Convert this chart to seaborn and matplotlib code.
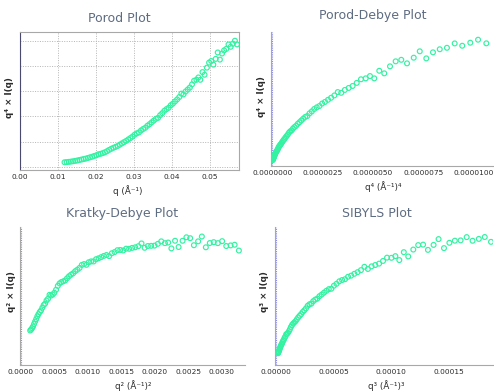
import numpy as np
import pandas as pd
import matplotlib
matplotlib.use("Agg")
import matplotlib.pyplot as plt
import seaborn as sns

# Scattering vector q (1/Å) of the measured curve
q = [0.01172, 0.01228, 0.01284, 0.01340, 0.01396, 0.01452, 0.01507, 0.01563, 0.01619, 0.01675,
     0.01731, 0.01787, 0.01843, 0.01899, 0.01955, 0.02011, 0.02066, 0.02122, 0.02178, 0.02234,
     0.02290, 0.02346, 0.02402, 0.02458, 0.02514, 0.02570, 0.02625, 0.02681, 0.02737, 0.02793,
     0.02849, 0.02905, 0.02961, 0.03017, 0.03073, 0.03129, 0.03184, 0.03240, 0.03296, 0.03352,
     0.03408, 0.03464, 0.03520, 0.03576, 0.03632, 0.03688, 0.03743, 0.03799, 0.03855, 0.03911,
     0.03967, 0.04023, 0.04079, 0.04135, 0.04191, 0.04247, 0.04302, 0.04358, 0.04414, 0.04470,
     0.04526, 0.04582, 0.04642, 0.04694, 0.04745, 0.04802, 0.04857, 0.04918, 0.04976, 0.05032,
     0.05087, 0.05149, 0.05203, 0.05260, 0.05316, 0.05371, 0.05428, 0.05487, 0.05543, 0.05601,
     0.05655, 0.05711]

# q^2 x I(q) in arbitrary units (Kratky quantity)
q2_intensity = [34.5, 35.5, 36.8, 38.5, 41.0, 43.5, 46.0, 48.8, 51.0, 53.2,
                54.8, 57.5, 60.2, 61.6, 64.8, 66.5, 70.5, 69.8, 70.8, 72.6,
                75.6, 79.5, 82.0, 83.4, 84.1, 85.0, 87.2, 89.3, 90.9, 92.2,
                94.4, 95.9, 97.7, 100.7, 101.6, 100.8, 103.4, 104.3, 104.2, 106.5,
                107.4, 108.6, 109.8, 110.7, 109.6, 112.5, 113.7, 115.6, 115.8, 115.3,
                117.1, 117.0, 117.9, 118.5, 119.6, 122.4, 118.0, 119.8, 120.0, 120.2,
                122.0, 124.5, 122.7, 123.3, 117.4, 125.1, 118.8, 125.1, 128.6, 127.7,
                120.6, 124.5, 129.4, 118.5, 122.8, 123.7, 122.7, 124.7, 119.8, 120.4,
                121.1, 115.2]

porod_ticks = [0.00, 0.01, 0.02, 0.03, 0.04, 0.05]
porod_debye_ticks = [0.0, 0.0000025, 0.0000050, 0.0000075, 0.0000100]
kratky_ticks = [0.0, 0.0005, 0.0010, 0.0015, 0.0020, 0.0025, 0.0030]
sibyls_ticks = [0.0, 0.00005, 0.00010, 0.00015]

sns.set_style("white")
plt.rcParams["font.family"] = ["DejaVu Sans"]

qa = np.array(q)
intensity = np.array(q2_intensity) / qa**2
df = pd.DataFrame({
    "q": qa,
    "q2": qa**2,
    "q3": qa**3,
    "q4": qa**4,
    "q2I": qa**2 * intensity,
    "q3I": qa**3 * intensity,
    "q4I": qa**4 * intensity,
})

W, H = 494, 392
fig = plt.figure(figsize=(W / 100, H / 100), dpi=100)
fig.patch.set_facecolor("white")


def rect(left, top, right, bottom):
    return [left / W, 1 - bottom / H, (right - left) / W, (bottom - top) / H]


def fpos(px, py):
    return px / W, 1 - py / H


MARK = "#33f2a2"
TITLE_C = "#5e6c82"
TEXT_C = "#2b2b2b"
SPINE_C = "#a8a8a8"

panels = [
    dict(title="Porod Plot", x="q", y="q4I", box=(19.5, 32, 239, 170),
         xlim=(-0.00013, 0.05763), ylim=(-0.0195, 0.4147),
         xticks=porod_ticks, fmt="{:.2f}", yfrac=(0.024, 0.182, 6), grid=True,
         title_xy=(119, 18.3), xlabel="q (Å⁻¹)", xlabel_xy=(128, 190.7),
         ylabel="q⁴ × I(q)", ylabel_xy=(10, 98)),
    dict(title="Porod-Debye Plot", x="q4", y="q4I", box=(270.5, 31.7, 493, 166),
         xlim=(-8.9e-8, 1.0969e-5), ylim=(-0.01434, 0.4127),
         xticks=porod_debye_ticks, fmt="{:.7f}", yfrac=(0.020, 0.1846, 6), grid=False,
         title_xy=(373, 15), xlabel="q⁴ (Å⁻¹)⁴", xlabel_xy=(383, 187),
         ylabel="q⁴ × I(q)", ylabel_xy=(261.7, 96.7)),
    dict(title="Kratky-Debye Plot", x="q2", y="q2I", box=(19.5, 226.7, 245, 365),
         xlim=(-2.25e-5, 3.353e-3), ylim=(-0.33, 139.3),
         xticks=kratky_ticks, fmt="{:.4f}", yfrac=(0.024, 0.1152, 9), grid=False,
         title_xy=(122.5, 213.3), xlabel="q² (Å⁻¹)²", xlabel_xy=(133, 385.7),
         ylabel="q² × I(q)", ylabel_xy=(11.7, 291.7)),
    dict(title="SIBYLS Plot", x="q3", y="q3I", box=(274.5, 226.7, 493, 365),
         xlim=(-1.3e-6, 1.880e-4), ylim=(-0.244, 7.419),
         xticks=sibyls_ticks, fmt="{:.5f}", yfrac=(0.029, 0.1018, 10), grid=False,
         title_xy=(376.7, 213.3), xlabel="q³ (Å⁻¹)³", xlabel_xy=(386.7, 385.7),
         ylabel="q³ × I(q)", ylabel_xy=(264, 292)),
]

for p in panels:
    ax = fig.add_axes(rect(*p["box"]))
    ax.set_facecolor("white")
    sns.scatterplot(data=df, x=p["x"], y=p["y"], ax=ax, marker="o", s=12,
                    facecolors="none", edgecolor=MARK, linewidth=0.85,
                    legend=False, zorder=3)
    ax.set_xlim(*p["xlim"])
    ax.set_ylim(*p["ylim"])
    lo, hi = p["ylim"]
    f0, step, n = p["yfrac"]
    ax.set_yticks([lo + (f0 + i * step) * (hi - lo) for i in range(n)])
    ax.set_xticks(p["xticks"])
    ax.set_xticklabels([p["fmt"].format(v) for v in p["xticks"]])
    ax.tick_params(axis="y", length=2.2, width=0.6, color="#9a9a9a",
                   labelleft=False, direction="out")
    ax.tick_params(axis="x", length=1.6, width=0.6, color="#9a9a9a",
                   labelsize=5.3, labelcolor=TEXT_C, pad=1.2, direction="out")
    ax.set_xlabel("")
    ax.set_ylabel("")

    for side in ["left", "bottom", "top", "right"]:
        ax.spines[side].set_linewidth(0.8)
        ax.spines[side].set_color(SPINE_C)
    if p["grid"]:
        ax.grid(True, color="#b4b4b4", linestyle=(0, (1, 1.5)), linewidth=0.7)
        ax.spines["left"].set_color("#4a4a6e")
    else:
        ax.grid(False)
        ax.spines["top"].set_visible(False)
        ax.spines["right"].set_visible(False)
    ax.set_axisbelow(True)
    # marker line at q = 0
    ax.axvline(0, color="#8c8cf0", linestyle=(0, (1, 1)), linewidth=0.8, zorder=2)

    fig.text(*fpos(*p["title_xy"]), p["title"], ha="center", va="center",
             fontsize=9, color=TITLE_C)
    fig.text(*fpos(*p["xlabel_xy"]), p["xlabel"], ha="center", va="center",
             fontsize=6.3, color=TEXT_C)
    fig.text(*fpos(*p["ylabel_xy"]), p["ylabel"], ha="center", va="center",
             fontsize=6.3, color=TEXT_C, rotation=90, fontweight="bold")

fig.savefig("out.png", dpi=100, facecolor="white")
